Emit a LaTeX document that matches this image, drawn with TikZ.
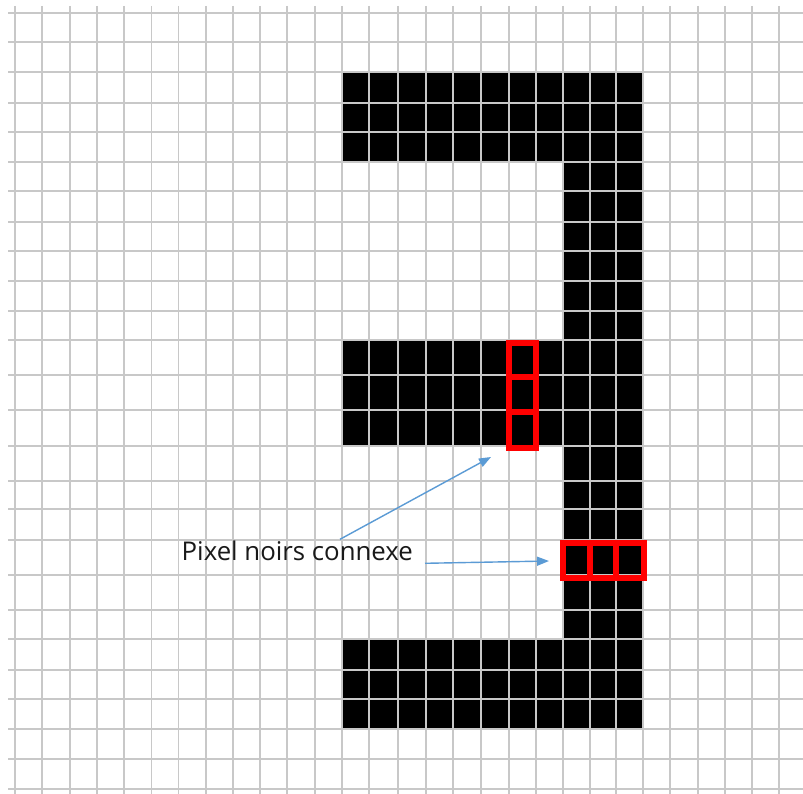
\documentclass[tikz,border=0pt]{standalone}
\usepackage{fontspec}
\setmainfont{Open Sans}
\usetikzlibrary{arrows.meta}
\definecolor{gridgray}{RGB}{200,200,200}
\definecolor{arrowblue}{RGB}{91,155,213}
\definecolor{boxred}{RGB}{255,0,0}
\tikzset{
  gridline/.style={draw=gridgray, line width=1.8pt},
  pixelfill/.style={fill=black},
  redbox/.style={draw=boxred, line width=6pt},
  conn/.style={draw=arrowblue, line width=1.4pt, -{Triangle[length=12pt,width=9pt]}},
  lbl/.style={font=\fontsize{25.8}{30}\selectfont, inner sep=0pt, text=black!90}
}
\begin{document}
\begin{tikzpicture}[x=1pt,y=-1pt]
\useasboundingbox (0,0) rectangle (803,794);
\fill[white] (0,0) rectangle (803,794);
\def\xs{15,42.3,69.7,97,124.3,151.5,178.5,205.7,233,260.3,287.3,314.7,342,369.3,398.3,425.7,453,481,509,536,563,590,616.3,643.3,670.3,697.7,725,752.3,779.3}
\def\ys{13.3,42,72,102.7,131.7,162.3,191,221.7,250.7,280.7,310.7,340,375,410,445.7,480.7,509.3,540,575,610.3,639.3,669.7,698.7,729,759.3,788.7}
% black pixels
\fill[pixelfill] (342,72) rectangle (643.3,162.3);
\fill[pixelfill] (563,72) rectangle (643.3,729);
\fill[pixelfill] (342,340) rectangle (563,445.7);
\fill[pixelfill] (342,639.3) rectangle (563,729);
% grid
\foreach \x in \xs {\draw[gridline] (\x,6) -- (\x,794);}
\foreach \y in \ys {\draw[gridline] (8,\y) -- (803,\y);}
% red boxes
\draw[redbox] (508.5,342.5) rectangle (535.5,447.5);
\draw[redbox] (508.5,377) -- (535.5,377);
\draw[redbox] (508.5,412) -- (535.5,412);
\draw[redbox] (562.7,542.7) rectangle (644,577.7);
\draw[redbox] (589.7,542.7) -- (589.7,577.7);
\draw[redbox] (616.3,542.7) -- (616.3,577.7);
% label and arrows
\node[lbl, anchor=base west] (label) at (181.5,560.7) {Pixel noirs connexe};
\coordinate (a1s) at (340,539.3);
\coordinate (a1e) at (491,457);
\coordinate (a2s) at (425,563.3);
\coordinate (a2e) at (549,561);
\draw[conn] (a1s) -- (a1e);
\draw[conn] (a2s) -- (a2e);
\end{tikzpicture}
\end{document}
